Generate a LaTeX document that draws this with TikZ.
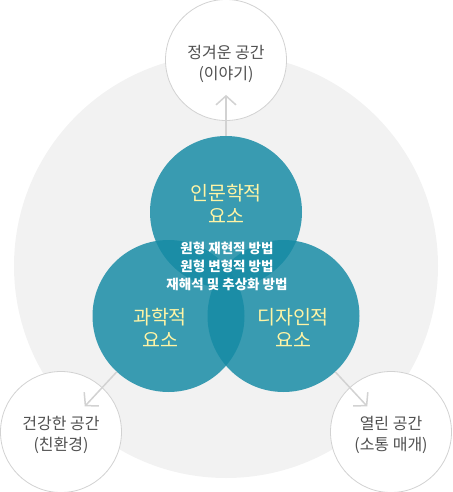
\documentclass[tikz,border=0pt]{standalone}
\usepackage{fontspec}
\newfontfamily\kr{Noto Sans CJK KR}
\usepackage{tikz}
\usetikzlibrary{positioning,arrows.meta}
\definecolor{bggray}{RGB}{242,242,242}
\definecolor{tealfill}{RGB}{22,139,165}
\definecolor{paleyellow}{RGB}{255,244,165}
\definecolor{txtgray}{RGB}{80,80,80}
\definecolor{linegray}{RGB}{210,210,210}

\begin{document}
\begin{tikzpicture}[x=1pt,y=-1pt,
    space/.style={circle,draw=linegray,line width=0.8pt,fill=white,minimum size=121pt,inner sep=0pt},
    spacetxt/.style={align=center,text=txtgray,font=\kr\fontsize{16}{21}\selectfont},
    elem/.style={circle,fill=tealfill,fill opacity=0.84,minimum size=152pt,inner sep=0pt},
    title/.style={align=center,text=paleyellow,font=\kr\fontsize{19.5}{23}\selectfont},
    arw/.style={draw=linegray,line width=1.5pt,-{Straight Barb[length=9pt,width=20pt]},shorten >=-26pt}]
    \useasboundingbox (0,0) rectangle (452,492);
    \fill[bggray] (226,266) circle (212);
    % outer spaces
    \node[space] (story) at (226,60) {};
    \node[space] (health) at (61,432) {};
    \node[space] (open) at (391,432) {};
    \node[spacetxt] (storylbl) at ([yshift=-4pt]story) {정겨운 공간\\(이야기)};
    \node[spacetxt] (healthlbl) at ([yshift=-3pt]health) {건강한 공간\\(친환경)};
    \node[spacetxt] (openlbl) at ([yshift=-3pt]open) {열린 공간\\(소통 매개)};
    % three elements
    \node[elem] (human) at (226,212) {};
    \node[elem] (science) at (168.5,316) {};
    \node[elem] (design) at (283.5,316) {};
    \draw[arw] (human) -- (story);
    \draw[arw] (science) -- (health);
    \draw[arw] (design) -- (open);
    \node[title] (humanlbl) at (226,204) {인문학적\\요소};
    \node[title] (sciencelbl) at (160,328) {과학적\\요소};
    \node[title] (designlbl) at (293,328) {디자인적\\요소};
    \node[align=center,text=white,font=\kr\bfseries\fontsize{13.5}{18}\selectfont] (method) at (227,266)
        {원형 재현적 방법\\원형 변형적 방법\\재해석 및 추상화 방법};
\end{tikzpicture}
\end{document}
